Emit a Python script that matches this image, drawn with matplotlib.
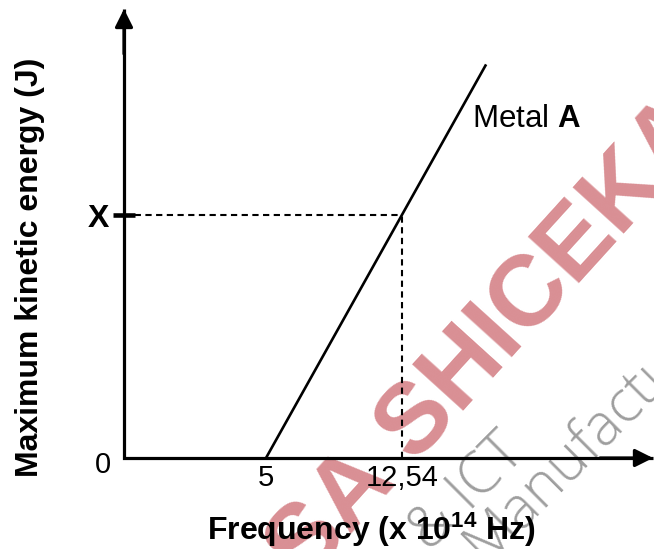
import matplotlib
matplotlib.use("Agg")
import matplotlib.pyplot as plt

plt.rcParams['font.family'] = ['Liberation Sans', 'DejaVu Sans']
plt.rcParams['mathtext.fontset'] = 'custom'
plt.rcParams['mathtext.rm'] = 'Liberation Sans'
plt.rcParams['mathtext.bf'] = 'Liberation Sans:bold'
plt.rcParams['mathtext.it'] = 'Liberation Sans:italic'
plt.rcParams['lines.scale_dashes'] = False

# ---- data ----
line_freq = [5, 17.2]          # x 10^14 Hz
line_energy = [0, 1.62]        # in units of X
x_tick_vals = [5, 12.54]
x_tick_labels = ['5', '12,54']
X_freq = 12.54
X_level = 1.0
x_limits = (-2.87, 26.45)
y_limits = (0, 1.848)

fig = plt.figure(figsize=(6.54, 5.49), dpi=100)
W, H = 654, 549
ax = fig.add_axes([124 / W, (H - 458) / H, (653 - 124) / W, (458 - 9) / H])
ax.patch.set_visible(False)
ax.set_xlim(*x_limits)
ax.set_ylim(*y_limits)
for s in ax.spines.values():
    s.set_visible(False)

# axes lines with arrows
ax.plot([0, 0, 1], [1, 0, 0], transform=ax.transAxes, color='black', lw=2.3,
        solid_joinstyle='miter', solid_capstyle='butt', clip_on=False, zorder=3)
arrow_kw = dict(arrowstyle='-|>,head_length=0.9,head_width=0.45', color='black',
                lw=2.3, shrinkA=0, shrinkB=0, mutation_scale=12)
ax.annotate('', xy=(0, 1), xytext=(0, 0.9), xycoords='axes fraction',
            arrowprops=arrow_kw, annotation_clip=False)
ax.annotate('', xy=(1, 0), xytext=(0.9, 0), xycoords='axes fraction',
            arrowprops=arrow_kw, annotation_clip=False)

# main line
ax.plot(line_freq, line_energy, color='black', lw=1.9, solid_capstyle='butt', zorder=4)

# dashed guides
ax.plot([x_limits[0], X_freq], [X_level, X_level], color='black', lw=1.5,
        dashes=(4.5, 3.2), zorder=2)
ax.plot([X_freq, X_freq], [0, X_level], color='black', lw=1.5,
        dashes=(4.5, 3.2), zorder=2)

# ticks
ax.set_xticks(x_tick_vals, x_tick_labels)
ax.tick_params(axis='x', length=0, pad=4, labelsize=21)
ax.set_yticks([X_level], ['X'])
ax.tick_params(axis='y', length=16, width=3.3, direction='inout', pad=3,
               labelsize=23)
for lab in ax.get_yticklabels():
    lab.set_fontweight('bold')
ax.annotate('0', xy=(x_limits[0], 0), xytext=(-9, -5), textcoords='offset points',
            ha='right', va='center', fontsize=21)

# labels
fig.text(371 / W, (H - 540) / H, r'Frequency (x $\mathbf{10^{14}}$ Hz)',
         ha='center', va='baseline', fontsize=23, fontweight='bold')
fig.text(30 / W, 1 - 267 / H, 'Maximum kinetic energy (J)', rotation=90,
         ha='center', va='center', fontsize=23, fontweight='bold')
fig.text(472 / W, (H - 127) / H, r'Metal $\mathbf{A}$', ha='left', va='baseline',
         fontsize=22.5)

# watermark
fig.text(511 / W, 1 - 358 / H, 'SA SHICEKA', rotation=47.8, rotation_mode='anchor',
         ha='center', va='baseline', fontsize=72, fontweight='bold',
         color='#d98f94', zorder=-1)
grey_kw = dict(rotation=45, rotation_mode='anchor', ha='left', va='baseline',
               fontsize=42, family=['Open Sans', 'Lato', 'DejaVu Sans'],
               fontweight='light', color='#9e9e9e', zorder=-1)
fig.text(430 / W, 1 - 553 / H, '& ICT', **grey_kw)
fig.text(484 / W, 1 - 564 / H, 'Manufacturing', **grey_kw)

fig.savefig('out.png', dpi=100)
